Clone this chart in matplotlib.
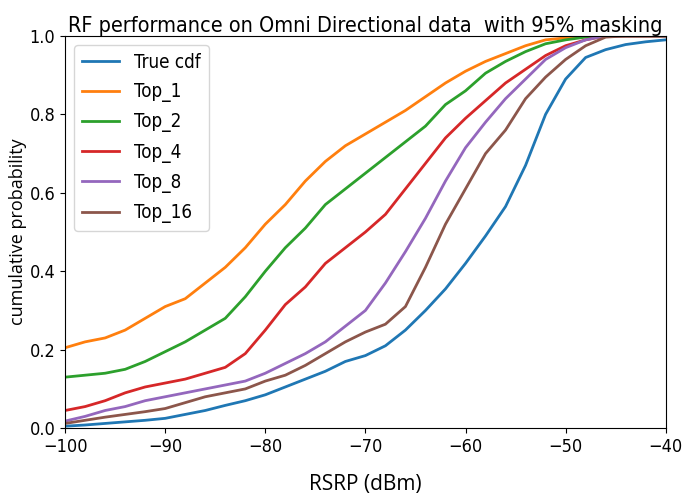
import numpy as np
import matplotlib.pyplot as plt

rsrp = np.arange(-100, -39, 2)

true_cdf = [0.005, 0.008, 0.012, 0.016, 0.02, 0.025, 0.035, 0.045, 0.058, 0.07,
            0.085, 0.105, 0.125, 0.145, 0.17, 0.185, 0.21, 0.25, 0.30, 0.355,
            0.42, 0.49, 0.565, 0.67, 0.80, 0.89, 0.945, 0.965, 0.978, 0.985, 0.99]
top_1 = [0.205, 0.22, 0.23, 0.25, 0.28, 0.31, 0.33, 0.37, 0.41, 0.46,
         0.52, 0.57, 0.63, 0.68, 0.72, 0.75, 0.78, 0.81, 0.845, 0.88,
         0.91, 0.935, 0.955, 0.975, 0.99, 0.995, 1.0, 1.0, 1.0, 1.0, 1.0]
top_2 = [0.13, 0.135, 0.14, 0.15, 0.17, 0.195, 0.22, 0.25, 0.28, 0.335,
         0.40, 0.46, 0.51, 0.57, 0.61, 0.65, 0.69, 0.73, 0.77, 0.825,
         0.86, 0.905, 0.935, 0.96, 0.98, 0.99, 0.997, 1.0, 1.0, 1.0, 1.0]
top_4 = [0.045, 0.055, 0.07, 0.09, 0.105, 0.115, 0.125, 0.14, 0.155, 0.19,
         0.25, 0.315, 0.36, 0.42, 0.46, 0.50, 0.545, 0.61, 0.675, 0.74,
         0.79, 0.835, 0.88, 0.915, 0.95, 0.975, 0.99, 1.0, 1.0, 1.0, 1.0]
top_8 = [0.018, 0.03, 0.045, 0.055, 0.07, 0.08, 0.09, 0.10, 0.11, 0.12,
         0.14, 0.165, 0.19, 0.22, 0.26, 0.30, 0.37, 0.45, 0.535, 0.63,
         0.715, 0.78, 0.84, 0.89, 0.94, 0.97, 0.99, 1.0, 1.0, 1.0, 1.0]
top_16 = [0.012, 0.02, 0.028, 0.035, 0.042, 0.05, 0.065, 0.08, 0.09, 0.10,
          0.12, 0.135, 0.16, 0.19, 0.22, 0.245, 0.265, 0.31, 0.41, 0.52,
          0.61, 0.70, 0.76, 0.84, 0.895, 0.94, 0.975, 0.997, 1.0, 1.0, 1.0]

series = {"True cdf": true_cdf, "Top_1": top_1, "Top_2": top_2,
          "Top_4": top_4, "Top_8": top_8, "Top_16": top_16}

plt.rcParams['font.stretch'] = 'condensed'

fig = plt.figure(figsize=(7, 4.99), dpi=100)
ax = fig.add_axes([0.093, 0.142, 0.858, 0.786])

for name, vals in series.items():
    ax.plot(rsrp, vals, linewidth=2, label=name)

ax.set_xlim(-100, -40)
ax.set_ylim(0, 1)
ax.tick_params(labelsize=13)
ax.set_title("RF performance on Omni Directional data  with 95% masking", fontsize=15.5, pad=3)
ax.set_ylabel("cumulative probability", fontsize=13, family="Open Sans", fontstretch="normal", labelpad=2)
ax.set_xlabel("RSRP (dBm)", fontsize=15, family="Open Sans", fontstretch="normal", labelpad=13)
ax.legend(loc="upper left", fontsize=13.5, handlelength=2.0, labelspacing=0.55)

fig.savefig("out.png", dpi=100)
